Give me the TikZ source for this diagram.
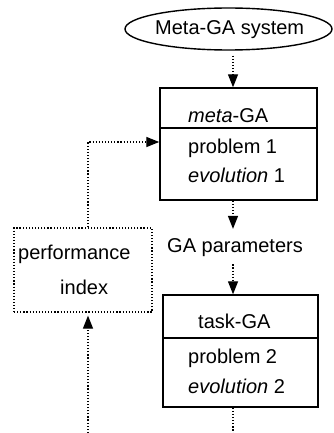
\documentclass[tikz,border=0pt]{standalone}
\usepackage{fontspec}
\setmainfont{Liberation Sans}
\usetikzlibrary{arrows.meta,shapes.geometric,calc}
\tikzset{
  txt/.style={inner sep=0pt, anchor=base west, font=\fontsize{20}{24}\selectfont},
  solidbox/.style={draw, line width=1.4pt, inner sep=0pt},
  dotline/.style={line width=1.3pt, dash pattern=on 1.2pt off 1.9pt},
  arr/.style={dotline, -{Triangle[length=13pt,width=10pt]}},
}
\begin{document}
\begin{tikzpicture}[x=1pt,y=-1pt]
\useasboundingbox (0,0) rectangle (334,433);
% ellipse
\node[ellipse, draw, line width=1.4pt, minimum width=207pt, minimum height=42pt, inner sep=0pt] (sys) at (228.5,29) {};
\node[txt] (systxt) at (155,35) {Meta-GA system};
% box 1
\node[solidbox, minimum width=157pt, minimum height=112pt] (box1) at (238.5,144) {};
\coordinate (d1) at (160,128);
\draw[line width=1.1pt] (d1) -- (d1 -| box1.east);
\node[txt] (m1) at (188,122) {\itshape meta\upshape-GA};
\node[txt] (p1) at (188,153) {problem 1};
\node[txt] (e1) at (188,182) {\itshape evolution\upshape\ 1};
% parameters
\node[txt] (params) at (167,252) {GA parameters};
% box 2
\node[solidbox, minimum width=155pt, minimum height=112pt] (box2) at (240.5,351) {};
\coordinate (d2) at (163,338);
\draw[line width=1.1pt] (d2) -- (d2 -| box2.east);
\node[txt] (t2) at (198,328) {task-GA};
\node[txt] (p2) at (188,363) {problem 2};
\node[txt] (e2) at (188,393) {\itshape evolution\upshape\ 2};
% performance index
\node[draw, dotline, minimum width=138pt, minimum height=84pt, inner sep=0pt] (perf) at (83,270) {};
\node[txt] (pf) at (18,259) {performance};
\node[txt] (ix) at (60,294) {index};
% connectors
\coordinate (cx) at (233,0);
\coordinate (px) at (88,0);
\coordinate (bottomR) at (233,433);
\coordinate (bottomL) at (88,433);
\draw[arr, shorten <=5pt] (sys.south -| cx) -- (box1.north -| cx);
\draw[arr, shorten >=9pt] (box1.south -| cx) -- (params.north -| cx);
\draw[arr, shorten <=8pt] (params.south -| cx) -- (box2.north -| cx);
\draw[dotline] (box2.south -| cx) -- (bottomR);
\draw[arr, shorten >=3pt] (bottomL) -- (perf.south -| px);
\draw[arr] (perf.north -| px) |- (box1.west |- 0,142);
\end{tikzpicture}
\end{document}
